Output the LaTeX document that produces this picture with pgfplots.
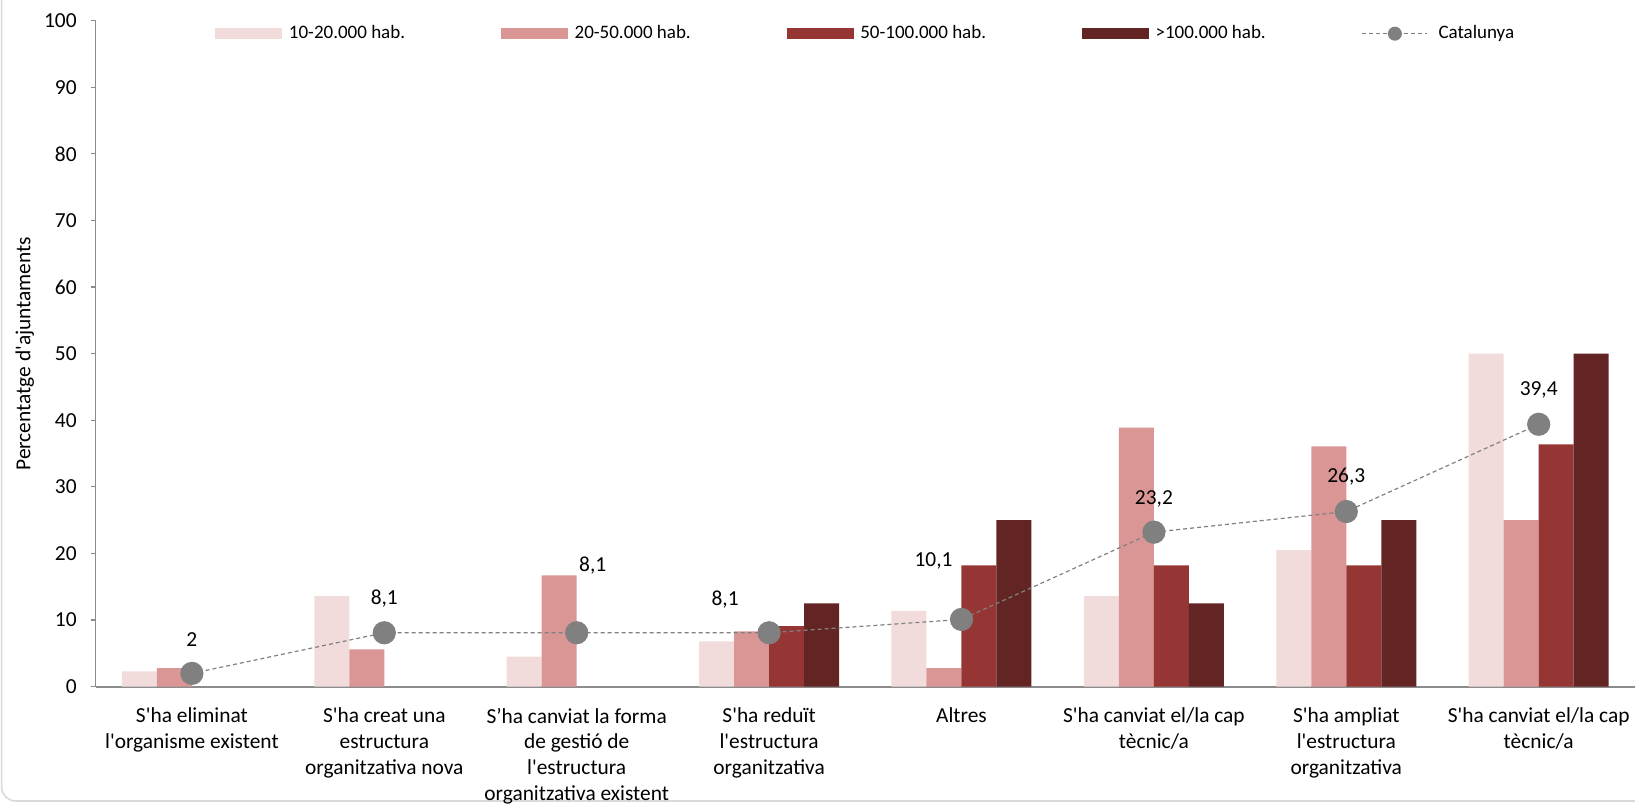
\documentclass[border=0pt]{standalone}
\usepackage{pgfplots}
\pgfplotsset{compat=1.18}
\usepackage{pgfplotstable}
\usepackage{fontspec}
\setmainfont{Carlito}[Ligatures=TeXOff]
\definecolor{cA}{HTML}{F2DCDB}
\definecolor{cB}{HTML}{DA9694}
\definecolor{cC}{HTML}{963634}
\definecolor{cD}{HTML}{632523}
\definecolor{axgray}{HTML}{8C8C8C}
\definecolor{catgray}{HTML}{808080}

\pgfplotsset{
  barleg/.style={legend image code/.code={\fill[##1] (0pt,-2.65pt) rectangle (33.5pt,2.65pt);}},
  catleg/.style={legend image code/.code={\draw[##1, mark=none] (0pt,0pt) -- (32.5pt,0pt);
    \path[##1, mark size=3.2pt] plot coordinates {(16.25pt,0pt)};
    \path (34.5pt,0pt);}},
}

\pgfplotstableread{
x a b
0 2.3 2.8
1 13.6 5.6
2 4.5 16.7
3 6.8 8.3
4 11.4 2.8
5 13.6 38.9
6 20.5 36.1
7 50 25
}\tabAB
\pgfplotstableread{
x c d
3 9.1 12.5
4 18.2 25
5 18.2 12.5
6 18.2 25
7 36.4 50
}\tabCD
\pgfplotstableread{
x y lab dx dy
0 2 2 0 17
1 8.1 8,1 0 17
2 8.1 8,1 8 33.5
3 8.1 8,1 -22 16.5
4 10.1 10,1 -14 29.5
5 23.2 23,2 0 16.85
6 26.3 26,3 0 17.5
7 39.4 39,4 0 17.2
}\tabCat

\begin{document}
\begin{tikzpicture}
\path[use as bounding box] (0,0) rectangle (817.5pt,402pt);
\draw[black!15, line width=0.8pt, rounded corners=7pt] (0.8pt,1.5pt) rectangle (860pt,440pt);
\begin{axis}[
  at={(47.85pt,58.65pt)}, anchor=south west,
  scale only axis, width=769.6pt, height=333pt,
  xmin=-0.5, xmax=7.5, ymin=0, ymax=100,
  ytick={0,10,...,100},
  xtick={0,...,7},
  xticklabels={
    {S'ha eliminat\\l'organisme existent},
    {S'ha creat una\\estructura\\organitzativa nova},
    {S’ha canviat la forma\\de gestió de\\l'estructura\\organitzativa existent},
    {S'ha reduït\\l'estructura\\organitzativa},
    {Altres},
    {S'ha canviat el/la cap\\tècnic/a},
    {S'ha ampliat\\l'estructura\\organitzativa},
    {S'ha canviat el/la cap\\tècnic/a}},
  axis x line*=bottom, axis y line*=left,
  axis line style={draw=axgray, line width=0.6pt, -},
  x axis line style={line width=1pt},
  major x tick style={draw=none},
  y tick style={draw=axgray, line width=0.6pt},
  tick align=outside, major tick length=2.5pt,
  /pgf/number format/assume math mode=true,
  tick label style={font=\fontsize{10.7}{12.85}\selectfont},
  yticklabel style={anchor=east, inner sep=0pt, xshift=-6.85pt},
  xticklabel style={align=center, anchor=north, inner sep=0pt, yshift=-8pt},
  ylabel={Percentatge d'ajuntaments},
  ylabel style={at={(rel axis cs:-0.046,0.5)}, anchor=center, font=\fontsize{10.7}{12.85}\selectfont},
  legend style={at={(0.5018,0.9805)}, anchor=center, draw=none, fill=none,
    font=\fontsize{9.5}{11}\selectfont, inner sep=0pt,
    nodes={inner sep=3.25pt},
    /tikz/every even column/.append style={column sep=44.75pt}},
  legend columns=5,
  legend cell align=left,
]
\addplot[ybar, bar width=17.5pt, bar shift=-26.25pt, fill=cA, draw=none, barleg]
  table[x=x, y=a]{\tabAB};
\addlegendentry{10-20.000 hab.}
\addplot[ybar, bar width=17.5pt, bar shift=-8.75pt, fill=cB, draw=none, barleg]
  table[x=x, y=b]{\tabAB};
\addlegendentry{20-50.000 hab.}
\addplot[ybar, bar width=17.5pt, bar shift=8.75pt, fill=cC, draw=none, barleg]
  table[x=x, y=c]{\tabCD};
\addlegendentry{50-100.000 hab.}
\addplot[ybar, bar width=17.5pt, bar shift=26.25pt, fill=cD, draw=none, barleg]
  table[x=x, y=d]{\tabCD};
\addlegendentry{>100.000 hab.}
\addplot[sharp plot, draw=catgray, line width=0.6pt, dash pattern=on 2pt off 1.5pt,
  mark=*, mark size=5.5pt, mark options={solid, fill=catgray, draw=catgray},
  nodes near coords, point meta=explicit symbolic,
  visualization depends on={\thisrow{dx} \as \dx},
  visualization depends on={\thisrow{dy} \as \dy},
  every node near coord/.append style={anchor=center, xshift=\dx pt, yshift=\dy pt,
    text=black, inner sep=0pt, font=\fontsize{10.7}{12.85}\selectfont},
  catleg]
  table[x=x, y=y, meta=lab]{\tabCat};
\addlegendentry{Catalunya}
\end{axis}
\end{tikzpicture}
\end{document}
